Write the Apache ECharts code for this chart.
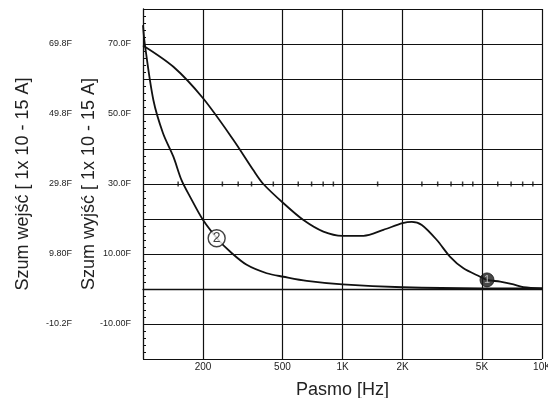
<!DOCTYPE html>
<html>
<head>
<meta charset="utf-8">
<script src="https://cdn.jsdelivr.net/npm/echarts@6/dist/echarts.min.js"></script>
<style>
  html, body { margin: 0; padding: 0; background: #fff; }
  #chart { width: 548px; height: 398px; }
</style>
</head>
<body>
<div id="chart"></div>
<script>
// curve (1): [frequency Hz, value]
const curve1 = [
    [100, 69.6], [142, 63.5], [200, 54.5], [284, 42.6], [357, 34], [401, 30],
    [506, 24.5], [637, 19.7], [802, 16.4], [1000, 15.2], [1274, 15.2], [1603, 16.9],
    [2000, 18.8], [2225, 19.2], [2497, 18.3], [2970, 14], [3464, 9.2], [4040, 5.9],
    [4898, 3.5], [5300, 2.6], [6170, 2.1], [7195, 1.3], [8075, 0.5], [10000, 0.2]
];
// curve (2)
const curve2 = [
    [100, 75.4], [102, 70.2], [112.7, 54], [126, 44.5], [142, 37.8], [156, 31.1],
    [172, 26.4], [200, 19.7], [239, 14], [273, 10.7], [331, 6.9], [417, 4.5],
    [506, 3.5], [662, 2.3], [1000, 1.3], [2000, 0.5], [5000, 0.2], [10000, 0.2]
];

// circled curve numbers
const markerFreqs = [234, 5300];
const markerValues = [14.5, 2.6];
const markerLabels = ['2', '1'];

// x grid lines and their labels
const xGridFreqs = [200, 500, 1000, 2000, 5000, 10000];
const xTickLabels = ['200', '500', '1K', '2K', '5K', '10K'];

// small ticks along the 30 line
const tickRowFreqs = [150, 250, 300, 350, 450, 600, 700, 800, 900, 1500, 2500, 3000, 3500, 4000, 4500, 6000, 7000, 8000, 9000];
const tickRowValue = 30;

// y tick labels (both scales share positions)
const yTickValues = [70, 50, 30, 10, -10];
const outTickLabels = ['70.0F', '50.0F', '30.0F', '10.00F', '-10.00F'];
const inTickLabels = ['69.8F', '49.8F', '29.8F', '9.80F', '-10.2F'];

const ink = '#111';
const textColor = '#222';
const tickFont = { fontFamily: 'Liberation Sans', fontSize: 9, color: textColor };
const nameFont = { fontFamily: 'Liberation Sans', fontSize: 18, color: textColor };

function pickLabel(labels) {
    return (v) => {
        let i = yTickValues.indexOf(Math.round(v));
        return i < 0 ? '' : labels[i];
    };
}

let chart = echarts.init(document.getElementById('chart'));

chart.setOption({
    animation: false,
    backgroundColor: '#fff',
    grid: { left: 143, right: 6, top: 9, bottom: 39, outerBoundsMode: 'none' },
    xAxis: {
        type: 'log',
        logBase: 10,
        min: 100,
        max: 10000,
        name: 'Pasmo [Hz]',
        nameLocation: 'middle',
        nameGap: 22,
        nameMoveOverlap: false,
        nameTextStyle: nameFont,
        axisLine: { show: true, lineStyle: { color: ink, width: 1.3 } },
        axisTick: { show: false },
        axisLabel: { show: false },
        splitLine: { show: false },
        minorTick: { show: false }
    },
    yAxis: [{
        type: 'value',
        min: -20,
        max: 80,
        interval: 10,
        position: 'left',
        name: 'Szum wyjść [ 1x 10 - 15 A]',
        nameLocation: 'middle',
        nameGap: 45,
        nameMoveOverlap: false,
        nameTextStyle: nameFont,
        axisLine: { show: true, lineStyle: { color: ink, width: 1.3 } },
        axisTick: { show: true, inside: true, length: 3, lineStyle: { color: ink } },
        minorTick: { show: true, splitNumber: 5, length: 3, lineStyle: { color: ink } },
        axisLabel: Object.assign({ margin: 12, formatter: pickLabel(outTickLabels) }, tickFont),
        splitLine: { show: true, lineStyle: { color: ink, width: 1.2 } }
    }, {
        type: 'value',
        min: -20,
        max: 80,
        interval: 10,
        position: 'left',
        offset: 59,
        name: 'Szum wejść [ 1x 10 - 15 A]',
        nameLocation: 'middle',
        nameGap: 52,
        nameMoveOverlap: false,
        nameTextStyle: nameFont,
        axisLine: { show: false },
        axisTick: { show: false },
        axisLabel: Object.assign({ margin: 12, formatter: pickLabel(inTickLabels) }, tickFont),
        splitLine: { show: false }
    }],
    series: [{
        type: 'scatter',
        name: 'ticks',
        silent: true,
        symbol: 'rect',
        symbolSize: [1.5, 5],
        itemStyle: { color: ink },
        data: tickRowFreqs.map((f) => [f, tickRowValue]),
        markLine: {
            silent: true,
            symbol: 'none',
            lineStyle: { color: ink, width: 1.2, type: 'solid' },
            label: Object.assign({}, tickFont, { position: 'start', distance: 3, fontSize: 10 }),
            data: xGridFreqs.map((f, i) => ({
                xAxis: f,
                label: { formatter: xTickLabels[i] }
            }))
        }
    }, {
        type: 'line',
        name: '1',
        data: curve1,
        smooth: 0.3,
        symbol: 'none',
        lineStyle: { color: ink, width: 1.8 }
    }, {
        type: 'line',
        name: '2',
        data: curve2,
        smooth: 0.3,
        symbol: 'none',
        lineStyle: { color: ink, width: 1.8 }
    }, {
        type: 'scatter',
        name: 'markers',
        z: 5,
        data: markerFreqs.map((f, i) => ({
            value: [f, markerValues[i]],
            symbolSize: markerLabels[i] === '2' ? 17 : 14,
            itemStyle: markerLabels[i] === '2'
                ? { color: '#fff', borderColor: ink, borderWidth: 1.4 }
                : { color: '#1a1a1a', borderColor: ink, borderWidth: 1 },
            label: {
                show: true,
                position: 'inside',
                formatter: markerLabels[i],
                fontFamily: 'Liberation Sans',
                fontSize: markerLabels[i] === '2' ? 14 : 11,
                color: markerLabels[i] === '2' ? ink : '#ddd'
            }
        }))
    }]
});
</script>
</body>
</html>
